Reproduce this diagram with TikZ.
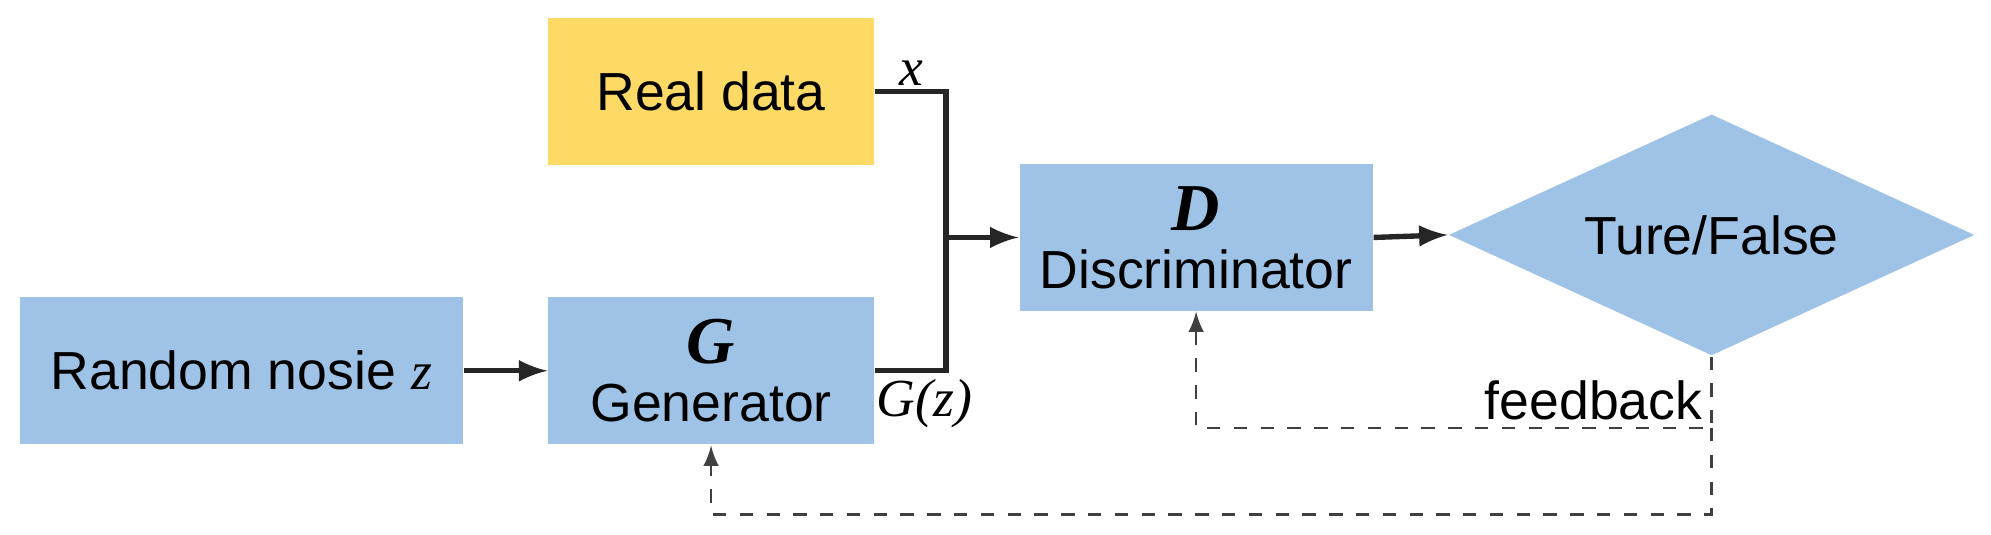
\documentclass[tikz,border=0pt]{standalone}
\usepackage{fontspec}
\setmainfont{Liberation Sans}
\newfontfamily\tnr{Liberation Serif}
\usetikzlibrary{shapes.geometric}
\definecolor{boxblue}{HTML}{9FC3E6}
\definecolor{boxyellow}{HTML}{FDD966}
\tikzset{
  block/.style={fill=#1, draw=none, minimum width=2.56cm, minimum height=1.16cm, align=center, font=\fontsize{12}{15}\selectfont},
  flow/.style={draw=black!85, line width=1.2pt, -latex},
  fb/.style={draw=black!75, dashed, line width=0.6pt, -latex},
  lbl/.style={font=\tnr\itshape\fontsize{12}{14}\selectfont, inner sep=1pt}
}
\newcommand{\bigsym}[1]{{\tnr\bfseries\itshape\fontsize{15}{15}\selectfont #1}}
\begin{document}
\begin{tikzpicture}[x=0.01cm,y=-0.01cm]
\useasboundingbox (0,0) rectangle (1568,421);
\node[block=boxyellow] (real) at (560,72) {Real data};
\node[block=boxblue, minimum width=3.49cm] (noise) at (190,292) {Random nosie {\tnr\itshape z}};
\node[block=boxblue] (gen) at (560,292) {\bigsym{G}\\[-2pt]Generator};
\node[block=boxblue, minimum width=2.78cm, minimum height=1.15cm] (disc) at (942,187) {\bigsym{D}\\[-2pt]Discriminator};
\node[diamond, fill=boxblue, aspect=2.18, minimum width=4.14cm, minimum height=1.9cm, inner sep=0pt, font=\fontsize{12}{15}\selectfont] (tf) at (1348,185) {Ture/False};

\coordinate (jx) at (745,72);
\coordinate (jg) at (745,292);
\coordinate (jm) at (745,187);
\coordinate (c1) at (1348,337);
\coordinate (c2) at (942,337);
\coordinate (c3) at (1348,405);
\coordinate (c4) at (560,405);

\draw[line width=1.2pt, draw=black!85] (real.east) -- (jx) -- (jg) -- (gen.east);
\draw[flow] (jm) -- (disc.west);
\draw[flow] (noise.east) -- (gen.west);
\draw[flow] (disc.east) -- (tf.west);
\draw[fb] (tf.south) -- (c1) -- (c2) -- (disc.south);
\draw[fb] (c1) -- (c3) -- (c4) -- (gen.south);

\node[lbl] (xl) at (718,58) {x};
\node[lbl] (gz) at (728,318) {G(z)};
\node[font=\fontsize{12}{15}\selectfont] (fbl) at (1255,315) {feedback};
\end{tikzpicture}
\end{document}
